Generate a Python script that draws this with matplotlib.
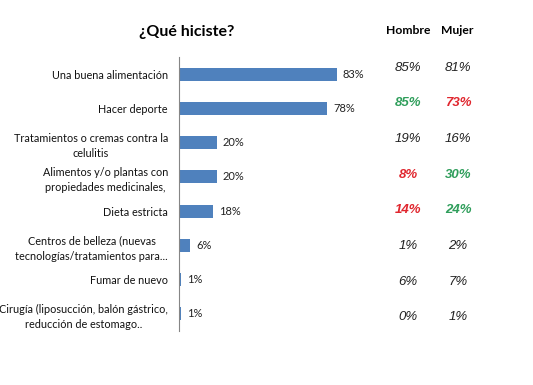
import matplotlib.pyplot as plt

plt.rcParams['font.family'] = ['Lato', 'DejaVu Sans']

categories = [
    "Una buena alimentación",
    "Hacer deporte",
    "Tratamientos o cremas contra la\ncelulitis",
    "Alimentos y/o plantas con\npropiedades medicinales,",
    "Dieta estricta",
    "Centros de belleza (nuevas\ntecnologías/tratamientos para...",
    "Fumar de nuevo",
    "Cirugía (liposucción, balón gástrico,\nreducción de estomago..",
]
total = [0.83, 0.78, 0.20, 0.20, 0.18, 0.06, 0.01, 0.01]
hombre = ["85%", "85%", "19%", "8%", "14%", "1%", "6%", "0%"]
mujer = ["81%", "73%", "16%", "30%", "24%", "2%", "7%", "1%"]
hombre_color = ["k", "g", "k", "r", "r", "k", "k", "k"]
mujer_color = ["k", "r", "k", "g", "g", "k", "k", "k"]

palette = {"k": "#222222", "g": "#2f9e5b", "r": "#e0262e"}

W, H = 533, 385
fig = plt.figure(figsize=(W / 100, H / 100), dpi=100)
fig.patch.set_facecolor('white')

# bar chart axes
ax = fig.add_axes([179 / W, 1 - 331 / H, 190 / W, 274 / H])
y = range(len(categories))
ax.barh(y, total, height=0.38, color='#4f81bd')
ax.set_xlim(0, 1)
ax.set_ylim(len(categories) - 0.5, -0.5)
ax.set_yticks(list(y))
ax.set_yticklabels(categories, fontsize=7.8, multialignment='center',
                   color='#111111', linespacing=1.5)
ax.tick_params(axis='y', length=0, pad=8)
ax.set_xticks([])
for s in ['top', 'right', 'bottom']:
    ax.spines[s].set_visible(False)
ax.spines['left'].set_color('#868686')
for i, v in enumerate(total):
    ax.text(v + 0.03, i, f"{round(v * 100)}%", va='center', ha='left',
            fontsize=8, color='#222222')

# table of Hombre / Mujer
tab = fig.add_axes([380 / W, 1 - 335 / H, 110 / W, 285 / H])
tab.set_xlim(0, 1)
tab.set_ylim(len(categories) - 0.5, -0.5)
tab.axis('off')
for i, (h, m) in enumerate(zip(hombre, mujer)):
    bold = 'bold' if hombre_color[i] != 'k' else 'normal'
    tab.text(0.255, i, h, ha='center', va='center', fontsize=9.5, style='italic',
             fontweight=bold, family='Liberation Sans', color=palette[hombre_color[i]])
    bold = 'bold' if mujer_color[i] != 'k' else 'normal'
    tab.text(0.71, i, m, ha='center', va='center', fontsize=9.5, style='italic',
             fontweight=bold, family='Liberation Sans', color=palette[mujer_color[i]])

fig.text(187 / W, 1 - 32 / H, "¿Qué hiciste?", ha='center', va='center',
         fontsize=11.5, fontweight='bold')
fig.text(408 / W, 1 - 31 / H, "Hombre", ha='center', va='center',
         fontsize=8.7, fontweight='bold')
fig.text(457 / W, 1 - 31 / H, "Mujer", ha='center', va='center',
         fontsize=8.7, fontweight='bold')

fig.savefig('out.png', dpi=100)
